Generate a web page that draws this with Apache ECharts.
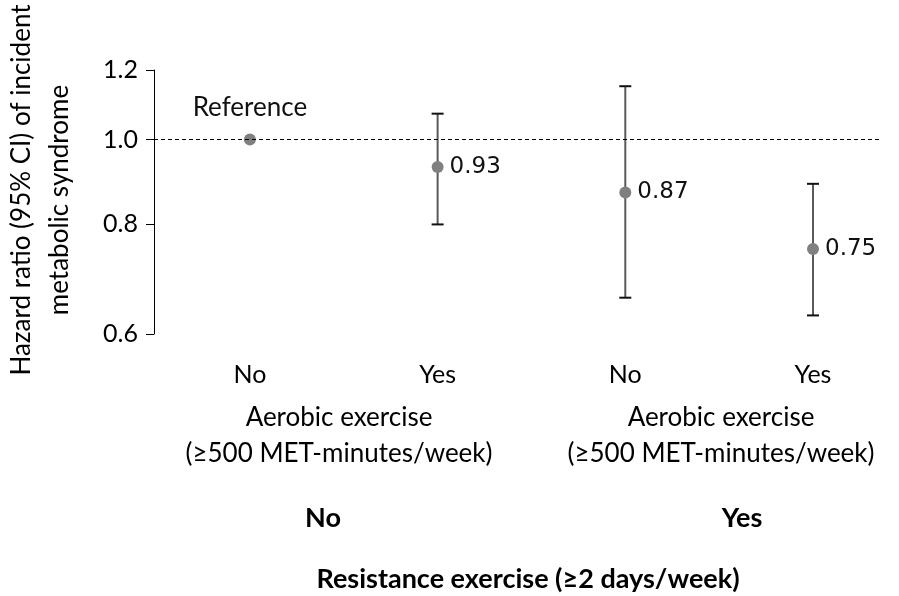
<!DOCTYPE html>
<html>
<head>
<meta charset="utf-8">
<script src="https://cdn.jsdelivr.net/npm/echarts@6/dist/echarts.min.js"></script>
<style>
  html, body { margin: 0; padding: 0; background: #fff; }
  #chart { width: 899px; height: 596px; }
</style>
</head>
<body>
<div id="chart"></div>
<script>
// aerobic groups, left to right (resistance: No, No, Yes, Yes)
var groups = ['No', 'Yes', 'No', 'Yes'];
var hr = [1.00, 0.93, 0.87, 0.75];
var ciLow = [null, 0.80, 0.66, 0.63];
var ciHigh = [null, 1.07, 1.15, 0.89];
var yTicks = [0.6, 0.8, 1.0, 1.2];

var ln = Math.log;
var font = 'Lato, "Open Sans", sans-serif';

// y axis is logarithmic: values go in as ln(hr)
var pointData = hr.map(function (v, i) {
  var item = { value: [i, ln(v)], hr: v };
  if (i === 0) {
    item.label = { position: 'top', distance: 13, fontFamily: font, fontSize: 26, formatter: 'Reference' };
  }
  return item;
});
var ciData = [];
hr.forEach(function (v, i) {
  if (ciLow[i] != null) ciData.push([i, ln(ciLow[i]), ln(ciHigh[i])]);
});

function txt(x, y, s, f, rot) {
  return {
    type: 'text', x: x, y: y, rotation: rot || 0,
    style: { text: s, font: f, fill: '#000', align: 'center', verticalAlign: 'middle' }
  };
}

var chart = echarts.init(document.getElementById('chart'));
chart.setOption({
  animation: false,
  grid: { left: 154, top: 70, width: 726, height: 264 },
  xAxis: {
    type: 'value', min: -0.511, max: 3.357,
    axisLine: { show: false }, axisTick: { show: false }, splitLine: { show: false },
    axisLabel: {
      customValues: [0, 1, 2, 3],
      formatter: function (v) { return groups[Math.round(v)]; },
      margin: 28, fontSize: 25, color: '#000', fontFamily: font
    }
  },
  yAxis: {
    type: 'value', min: ln(0.6), max: ln(1.2),
    axisLine: { show: true, onZero: false, lineStyle: { color: '#000', width: 1 } },
    axisTick: { show: true, customValues: yTicks.map(ln), length: 8, lineStyle: { color: '#000' } },
    axisLabel: {
      customValues: yTicks.map(ln),
      formatter: function (v) { return Math.exp(v).toFixed(1); },
      margin: 16, fontSize: 25, color: '#000', fontFamily: font
    },
    splitLine: { show: false }
  },
  series: [
    {
      type: 'custom',
      data: ciData,
      encode: { x: 0, y: [1, 2] },
      z: 2,
      renderItem: function (params, api) {
        var x = api.value(0);
        var lo = api.coord([x, api.value(1)]);
        var hi = api.coord([x, api.value(2)]);
        var cap = 6;
        return {
          type: 'group',
          children: [
            { type: 'line', shape: { x1: lo[0], y1: lo[1], x2: hi[0], y2: hi[1] },
              style: { stroke: '#595959', lineWidth: 2 } },
            { type: 'line', shape: { x1: hi[0] - cap, y1: hi[1], x2: hi[0] + cap, y2: hi[1] },
              style: { stroke: '#111', lineWidth: 2 } },
            { type: 'line', shape: { x1: lo[0] - cap, y1: lo[1], x2: lo[0] + cap, y2: lo[1] },
              style: { stroke: '#111', lineWidth: 2 } }
          ]
        };
      }
    },
    {
      type: 'scatter',
      data: pointData,
      symbolSize: 12,
      z: 3,
      itemStyle: { color: '#808080', opacity: 1 },
      label: {
        show: true, position: 'right', distance: 6,
        fontSize: 23, color: '#111', fontFamily: '"DejaVu Sans", sans-serif',
        formatter: function (p) { return p.data.hr.toFixed(2); }
      },
      markLine: {
        silent: true, symbol: 'none', label: { show: false },
        lineStyle: { color: '#000', width: 1, type: [4, 3] },
        data: [{ yAxis: 0 }]
      }
    }
  ],
  graphic: [
    txt(22, 190, 'Hazard ratio (95% CI) of incident', '26px ' + font, Math.PI / 2),
    txt(60, 200, 'metabolic syndrome', '26px ' + font, Math.PI / 2),
    txt(339, 418, 'Aerobic exercise', '26px ' + font),
    txt(339, 454, '(≥500 MET-minutes/week)', '26px ' + font),
    txt(721, 418, 'Aerobic exercise', '26px ' + font),
    txt(721, 454, '(≥500 MET-minutes/week)', '26px ' + font),
    txt(323, 518, 'No', 'bold 27px ' + font),
    txt(742, 518, 'Yes', 'bold 27px ' + font),
    txt(528, 579, 'Resistance exercise (≥2 days/week)', 'bold 27px ' + font)
  ]
});
</script>
</body>
</html>
